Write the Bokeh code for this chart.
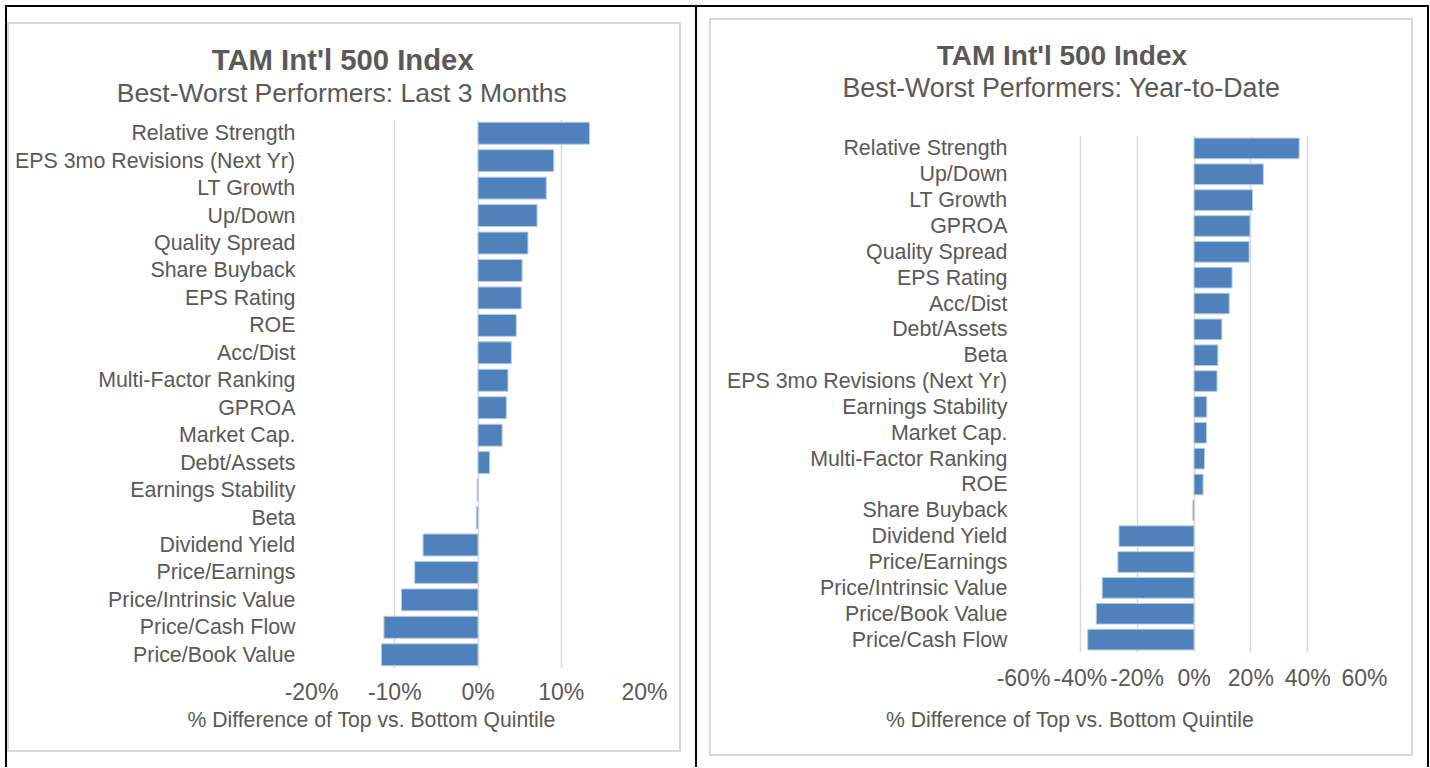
from bokeh.plotting import figure
from bokeh.models import (Range1d, FactorRange, FixedTicker, PrintfTickFormatter,
                          Title, Div, ColumnDataSource)
from bokeh.layouts import row, column
from bokeh.embed import file_html
from bokeh.resources import INLINE

FONT = "Liberation Sans"
TEXT = "#595959"
BAR = "#4F81BD"
BAR_EDGE = "#b9cde5"
GRID = "#d9d9d9"

chart_title = "TAM Int'l 500 Index"
x_title = "% Difference of Top vs. Bottom Quintile"

left_subtitle = "Best-Worst Performers: Last 3 Months"
left_cats = ["Relative Strength", "EPS 3mo Revisions (Next Yr)", "LT Growth", "Up/Down",
             "Quality Spread", "Share Buyback", "EPS Rating", "ROE", "Acc/Dist",
             "Multi-Factor Ranking", "GPROA", "Market Cap.", "Debt/Assets",
             "Earnings Stability", "Beta", "Dividend Yield", "Price/Earnings",
             "Price/Intrinsic Value", "Price/Cash Flow", "Price/Book Value"]
left_vals = [13.4, 9.1, 8.2, 7.1, 6.0, 5.3, 5.2, 4.6, 4.0, 3.6, 3.4, 2.9, 1.4,
             -0.1, -0.2, -6.6, -7.6, -9.2, -11.3, -11.6]
left_ticks = [-20, -10, 0, 10, 20]

right_subtitle = "Best-Worst Performers: Year-to-Date"
right_cats = ["Relative Strength", "Up/Down", "LT Growth", "GPROA", "Quality Spread",
              "EPS Rating", "Acc/Dist", "Debt/Assets", "Beta",
              "EPS 3mo Revisions (Next Yr)", "Earnings Stability", "Market Cap.",
              "Multi-Factor Ranking", "ROE", "Share Buyback", "Dividend Yield",
              "Price/Earnings", "Price/Intrinsic Value", "Price/Book Value",
              "Price/Cash Flow"]
right_vals = [37.0, 24.4, 20.6, 19.7, 19.4, 13.4, 12.4, 9.8, 8.4, 8.1, 4.5, 4.4,
              3.7, 3.2, -0.4, -26.4, -26.8, -32.3, -34.4, -37.4]
right_ticks = [-60, -40, -20, 0, 20, 40, 60]


def make_panel(cats, vals, ticks, subtitle, width, height, borders, offs, gaps, sizes):
    bl, br, bt, bb = borders
    t_off, s_off, a_off = offs
    top_gap, tick_gap, axis_gap = gaps
    t_size, s_size = sizes
    p = figure(width=width, height=height,
               y_range=FactorRange(factors=list(reversed(cats))),
               x_range=Range1d(ticks[0], ticks[-1]),
               output_backend="svg", toolbar_location=None,
               min_border_left=bl, min_border_right=br,
               min_border_top=bt, min_border_bottom=bb,
               background_fill_color="white", border_fill_color="white",
               outline_line_color=None,
               styles={"border": "2px solid #d9d9d9", "box-sizing": "border-box"})
    src = ColumnDataSource(dict(cat=cats, val=vals))
    p.hbar(y="cat", right="val", left=0, height=0.8, source=src,
           fill_color=BAR, line_color=BAR_EDGE, line_width=1)

    p.ygrid.grid_line_color = None
    p.xgrid.ticker = FixedTicker(ticks=ticks)
    p.xgrid.grid_line_color = GRID
    p.xgrid.grid_line_width = 1.5

    p.yaxis.axis_line_color = None
    p.yaxis.major_tick_line_color = None
    p.yaxis.minor_tick_line_color = None
    p.yaxis.major_label_standoff = 10
    p.yaxis.major_label_text_font = FONT
    p.yaxis.major_label_text_font_size = "21.4px"
    p.yaxis.major_label_text_color = TEXT

    p.xaxis.ticker = FixedTicker(ticks=ticks)
    p.xaxis.formatter = PrintfTickFormatter(format="%d%%")
    p.xaxis.axis_line_color = None
    p.xaxis.major_tick_line_color = None
    p.xaxis.minor_tick_line_color = None
    p.xaxis.major_tick_out = 0
    p.xaxis.major_label_standoff = tick_gap
    p.xaxis.major_label_text_font = FONT
    p.xaxis.major_label_text_font_size = "23px"
    p.xaxis.major_label_text_color = TEXT

    # above: spacer (closest to frame), subtitle, title
    p.add_layout(Title(text=" ", text_font_size="1px", standoff=top_gap), "above")
    p.add_layout(Title(text=subtitle, align="left", offset=s_off, standoff=0,
                       vertical_align="bottom", text_font=FONT,
                       text_font_size=s_size, text_font_style="normal",
                       text_color=TEXT), "above")
    p.add_layout(Title(text=chart_title, align="left", offset=t_off, standoff=0,
                       vertical_align="bottom", text_font=FONT,
                       text_font_size=t_size, text_font_style="bold",
                       text_color=TEXT), "above")
    # below: axis title
    p.add_layout(Title(text=x_title, align="left", offset=a_off, standoff=axis_gap,
                       vertical_align="top", text_font=FONT,
                       text_font_size="21.2px", text_font_style="normal",
                       text_color=TEXT), "below")
    return p


p1 = make_panel(left_cats, left_vals, left_ticks, left_subtitle, 674, 730,
                (302, 39, 95, 86), (-99.8, -194.8, -124), (9, 10, 0),
                ("29.3px", "26.5px"))
p2 = make_panel(right_cats, right_vals, right_ticks, right_subtitle, 704, 738,
                (312, 51, 115, 106), (-86.8, -181, -137.5), (30, 12, 28),
                ("28px", "26.8px"))

c1 = column(p1, margin=(15, 14, 0, 0))
c2 = column(p2, margin=(11, 14, 0, 12))


def vline():
    return Div(text="", width=2, height=760, margin=0,
               styles={"background-color": "black"})


top_line = Div(text="", width=1424, height=2, margin=0,
               styles={"background-color": "black"})
page = column(top_line, row(vline(), c1, vline(), c2, vline(), spacing=0),
              spacing=0, margin=(5, 0, 0, 5))

open("out.html", "w").write(file_html(page, INLINE))
